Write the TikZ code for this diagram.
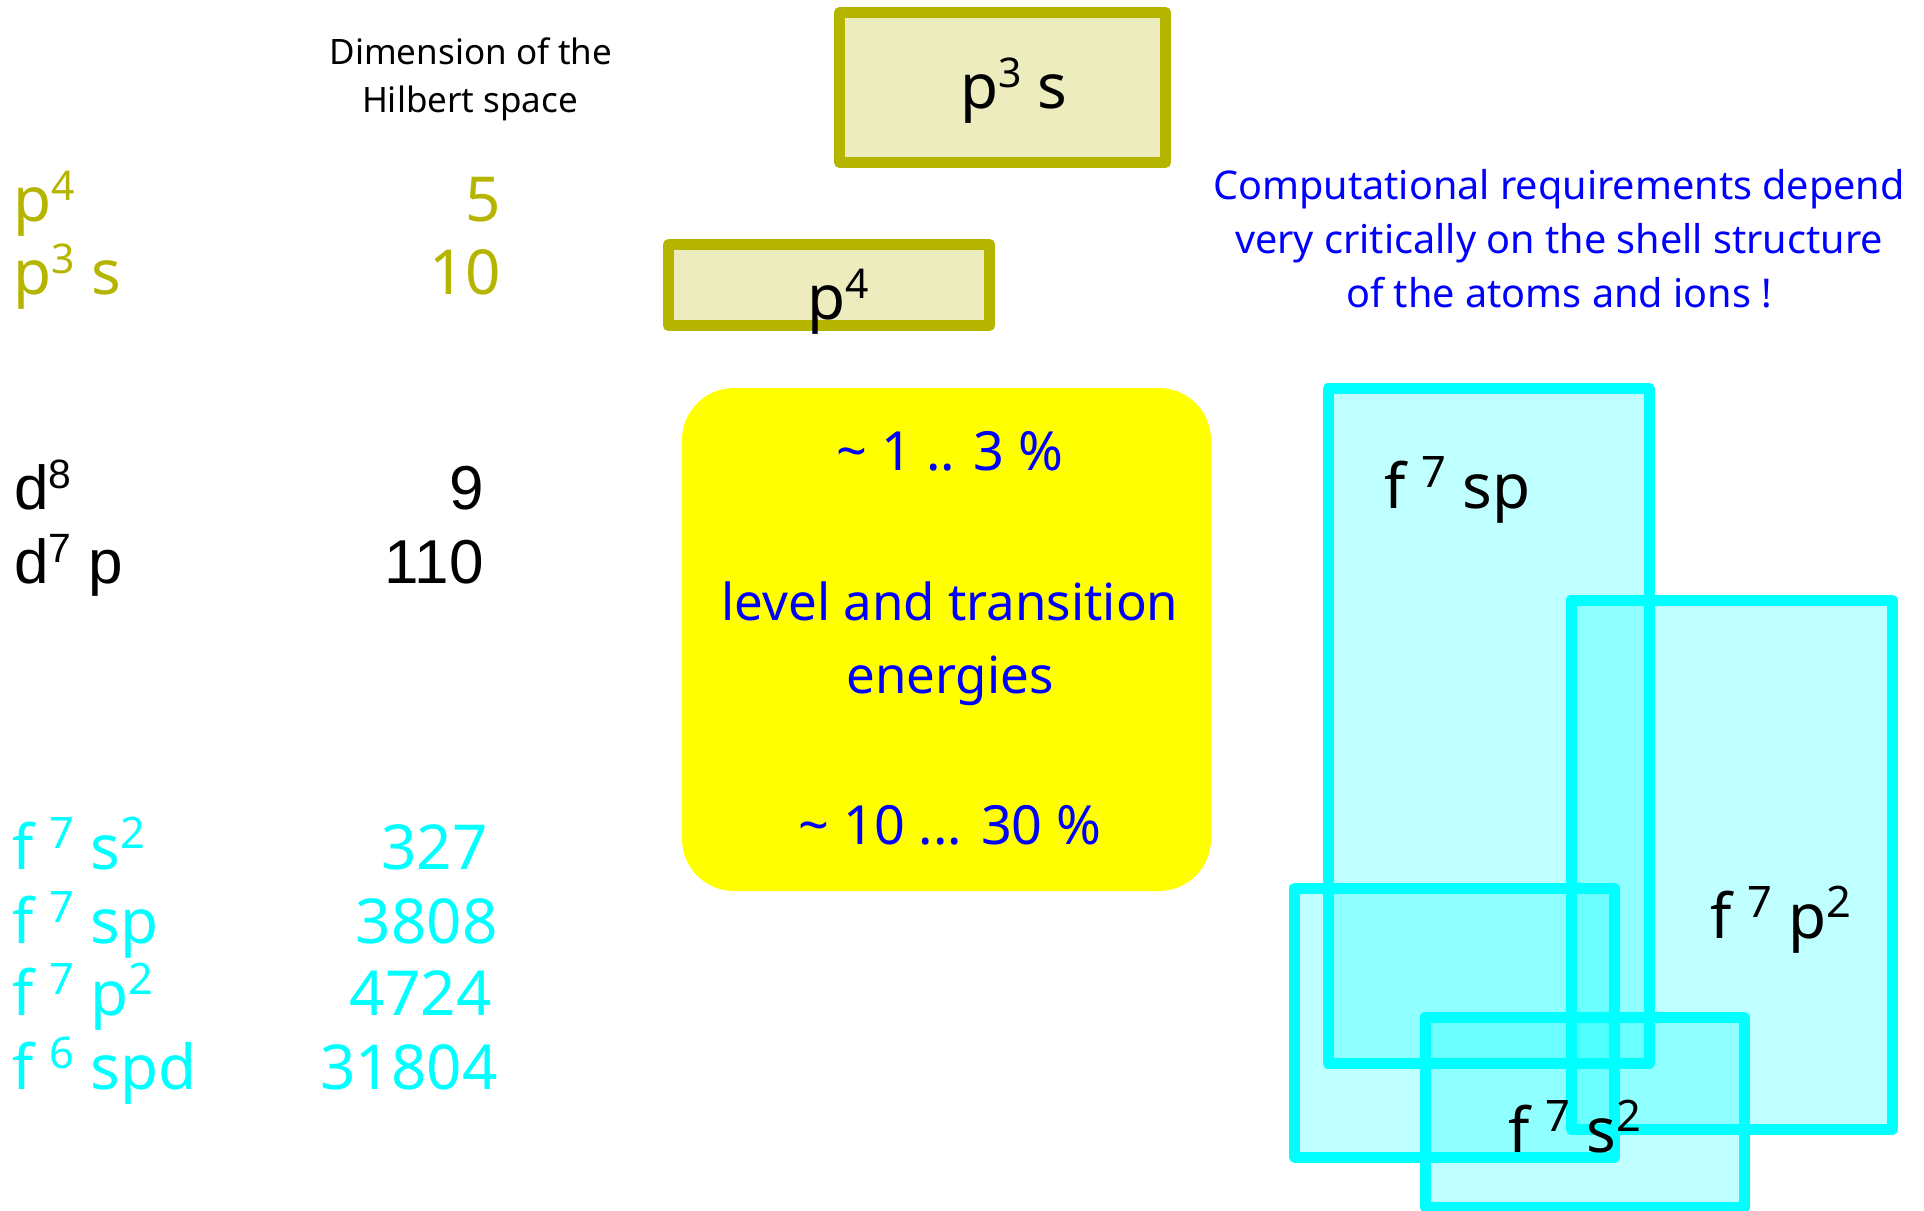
\documentclass[tikz,border=0pt]{standalone}
\usepackage{fontspec}
\setmainfont{Noto Sans}
\newfontfamily\arialfont{Liberation Sans}

\definecolor{shellolive}{RGB}{181,181,0}
\definecolor{shellcyan}{RGB}{0,255,255}
\definecolor{noteblue}{RGB}{0,0,255}
\definecolor{noteyellow}{RGB}{255,255,0}

\newcommand*\upidx[2][0.66]{\raisebox{0.33em}{\scalebox{#1}{#2}}}

\begin{document}
\begin{tikzpicture}[
    x=0.5pt, y=-0.5pt,
    every node/.style={inner sep=0pt},
    rowfont/.style={font=\fontsize{31}{37}\selectfont},
    oliverow/.style={rowfont, text=shellolive},
    darkrow/.style={font=\arialfont\fontsize{31}{37}\selectfont},
    cyanrow/.style={rowfont, text=shellcyan},
    shelllabel/.style={rowfont, anchor=base},
    olivebox/.style={draw=shellolive, fill=shellolive!25, line width=5.5pt, line join=round},
    cyanbox/.style={draw=shellcyan, fill=shellcyan, fill opacity=0.25, line width=5.5pt, line join=round},
    energyline/.style={font=\fontsize{25.5}{36}\selectfont, text=noteblue, anchor=base},
    remark/.style={font=\fontsize{19.8}{27}\selectfont, text=noteblue, anchor=base}
]
\path[use as bounding box, fill=white] (0,0) rectangle (1924,1211);

% table of configurations
\node[font=\fontsize{17.5}{24}\selectfont, anchor=base] (dimhead) at (471,64) {Dimension of the};
\node[font=\fontsize{17.5}{24}\selectfont, anchor=base] (dimheadb) at (470,112) {Hilbert space};

\node[oliverow, anchor=base west] (pfour) at (13,221) {p\upidx{4}};
\node[oliverow, anchor=base east] (pfourdim) at (501,221) {5};
\node[oliverow, anchor=base west] (pthrees) at (13,294) {p\upidx{3} s};
\node[oliverow, anchor=base east] (pthreesdim) at (501,294) {10};

\node[darkrow, anchor=base west] (deight) at (14,509) {d\upidx{8}};
\node[darkrow, anchor=base east] (deightdim) at (484,509) {9};
\node[darkrow, anchor=base west] (dsevenp) at (14,583) {d\upidx{7} p};
\node[darkrow, anchor=base east] (dsevenpdim) at (484,583) {110};

\node[cyanrow, anchor=base west] (fss) at (12,869) {f \upidx[0.7]{7} s\upidx[0.7]{2}};
\node[cyanrow, anchor=base east] (fssdim) at (488,869) {327};
\node[cyanrow, anchor=base west] (fsp) at (12,943) {f \upidx[0.7]{7} sp};
\node[cyanrow, anchor=base east] (fspdim) at (498,943) {3808};
\node[cyanrow, anchor=base west] (fpp) at (12,1015) {f \upidx[0.7]{7} p\upidx[0.7]{2}};
\node[cyanrow, anchor=base east] (fppdim) at (492,1015) {4724};
\node[cyanrow, anchor=base west] (fspd) at (12,1089) {f \upidx[0.7]{6} spd};
\node[cyanrow, anchor=base east] (fspddim) at (498,1089) {31804};

% p shells
\draw[olivebox] (839.5,12.5) rectangle (1165.5,162.5);
\draw[olivebox] (668.5,244.5) rectangle (989.5,325.5);
\node[shelllabel] (pthreesbox) at (1014,108) {p\upidx{3} s};
\node[shelllabel] (pfourbox) at (838,319) {p\upidx{4}};

% accuracy
\path[fill=noteyellow, rounded corners=26pt] (682,388) rectangle (1211,891);
\node[energyline, font=\fontsize{27}{36}\selectfont] (errlow) at (950,470) {\textasciitilde\ 1 .. 3 \%};
\node[energyline] (energytopic) at (950,620) {level and transition};
\node[energyline] (energytopicb) at (950,693) {energies};
\node[energyline, font=\fontsize{27}{36}\selectfont] (errhigh) at (950,844) {\textasciitilde\ 10 ... 30 \%};

\foreach \txt [count=\i from 0] in {Computational requirements depend, very critically on the shell structure, of the atoms and ions !}
    \node[remark] (remark\i) at (1559,199+54*\i) {\txt};

% f shells
\draw[cyanbox] (1328,388.5) rectangle (1649,1063);
\draw[cyanbox] (1571,600) rectangle (1892,1129);
\draw[cyanbox] (1294.5,888) rectangle (1614.5,1157);
\draw[cyanbox] (1425,1017) rectangle (1744,1207);
\node[shelllabel, anchor=base west] (fspbox) at (1384,508) {f \upidx[0.7]{7} sp};
\node[shelllabel, anchor=base west] (fppbox) at (1710,938) {f \upidx[0.7]{7} p\upidx[0.7]{2}};
\node[shelllabel, anchor=base west] (fssbox) at (1508,1152) {f \upidx[0.7]{7} s\upidx[0.7]{2}};
\end{tikzpicture}
\end{document}
